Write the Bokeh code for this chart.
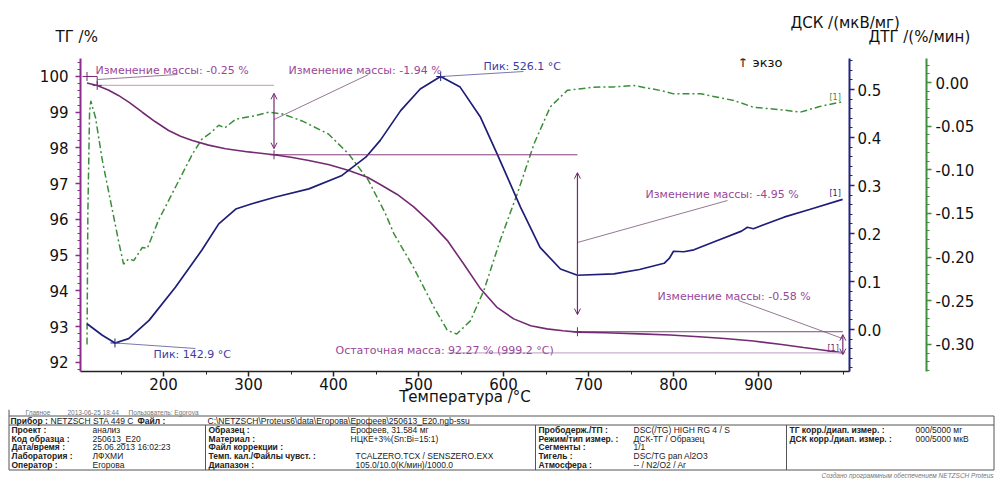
from bokeh.plotting import figure
from bokeh.models import (Range1d, LinearAxis, FixedTicker, NumeralTickFormatter,
                          Label, Arrow, OpenHead, Plot)
from bokeh.layouts import column
from bokeh.embed import file_html
from bokeh.resources import INLINE
from bokeh.core.properties import value

# ---------------- data ----------------
tg_T = [110, 122, 135, 147, 160, 175, 190, 206, 220, 234, 253, 273, 300, 330, 350,
        371, 395, 418, 440, 455, 475, 494, 514, 534, 553, 573, 592, 612, 632, 651,
        670, 687, 720, 760, 796, 830, 860, 894, 925, 953, 975, 999]
tg = [99.82, 99.75, 99.62, 99.47, 99.27, 99.00, 98.74, 98.49, 98.33, 98.21, 98.08,
      97.98, 97.89, 97.81, 97.74, 97.65, 97.53, 97.37, 97.18, 96.98, 96.70, 96.36,
      95.92, 95.41, 94.76, 94.06, 93.55, 93.22, 93.03, 92.94, 92.89, 92.85, 92.83,
      92.80, 92.77, 92.72, 92.67, 92.60, 92.51, 92.42, 92.35, 92.27]

dsc_T = [110, 128, 143, 159, 183, 214, 245, 265, 285, 304, 332, 371, 410, 438, 455,
         479, 502, 526, 549, 573, 593, 620, 643, 667, 687, 730, 760, 789, 795, 800,
         812, 824, 851, 880, 887, 894, 930, 960, 999]
dsc = [0.012, -0.012, -0.028, -0.019, 0.019, 0.088, 0.165, 0.220, 0.251, 0.262,
       0.276, 0.293, 0.321, 0.359, 0.394, 0.456, 0.501, 0.527, 0.505, 0.442, 0.364,
       0.255, 0.171, 0.126, 0.113, 0.116, 0.125, 0.138, 0.148, 0.163, 0.162, 0.166,
       0.185, 0.205, 0.213, 0.210, 0.234, 0.250, 0.271]

dtg_T = [110, 111, 113, 114.5, 117, 120, 128, 140, 147, 153, 159, 165, 175, 181, 194,
         214, 234, 245, 255, 265, 272, 285, 308, 324, 340, 363, 394, 418, 441, 461,
         471, 494, 518, 534, 545, 561, 577, 596, 616, 636, 655, 675, 706, 730, 753,
         785, 800, 832, 871, 894, 934, 949, 972, 999]
dtg = [-0.300, -0.150, -0.035, -0.021, -0.030, -0.040, -0.089, -0.147, -0.181, -0.208,
       -0.202, -0.204, -0.189, -0.190, -0.158, -0.120, -0.082, -0.065, -0.058, -0.049,
       -0.052, -0.042, -0.038, -0.034, -0.036, -0.044, -0.059, -0.082, -0.112, -0.150,
       -0.173, -0.2115, -0.257, -0.284, -0.288, -0.273, -0.238, -0.181, -0.128, -0.070,
       -0.028, -0.009, -0.0054, -0.0050, -0.0034, -0.0092, -0.013, -0.013, -0.0206,
       -0.0283, -0.032, -0.034, -0.0275, -0.022]

# mass-change evaluation points (T, TG level)
mass_T = [110, 122, 330, 687, 999.2]
mass_TG = [100.0, 99.75, 97.81, 92.86, 92.27]
# DSC peaks
peak_T = [142.9, 526.1]
peak_dsc = [-0.028, 0.527]

x_ticks = [200, 300, 400, 500, 600, 700, 800, 900]
tg_ticks = [92, 93, 94, 95, 96, 97, 98, 99, 100]
dsc_ticks = [0.0, 0.1, 0.2, 0.3, 0.4, 0.5]
dtg_ticks = [-0.30, -0.25, -0.20, -0.15, -0.10, -0.05, 0.00]

ann_mass = ["Изменение массы: -0.25 %", "Изменение массы: -1.94 %",
            "Изменение массы: -4.95 %", "Изменение массы: -0.58 %"]
ann_peak = ["Пик: 142.9 °C", "Пик: 526.1 °C"]
ann_resid = "Остаточная масса: 92.27 % (999.2 °C)"

titles = ["ТГ /%", "ДСК /(мкВ/мг)", "ДТГ /(%/мин)"]
x_title = "Температура /°C"

info_line = ["Главное", "2013-06-25 18:44", "Пользователь: Egorova"]
row1 = ["Прибор :", "NETZSCH STA 449 C", "Файл :",
        "C:\\NETZSCH\\Proteus6\\data\\Егорова\\Ерофеев\\250613_E20.ngb-ssu"]
c1_lab = ["Проект :", "Код образца :", "Дата/время :", "Лаборатория :", "Оператор :"]
c1_val = ["анализ", "250613_E20", "25.06.2013 16:02:23", "ЛФХМИ", "Егорова"]
c2_lab = ["Образец :", "Материал :", "Файл коррекции :", "Темп. кал./Файлы чувст. :", "Диапазон :"]
c2_val = ["Ерофеев, 31.584 мг", "НЦКЕ+3%(Sn:Bi=15:1)", "", "TCALZERO.TCX / SENSZERO.EXX",
          "105.0/10.0(K/мин)/1000.0"]
c3_lab = ["Прободерж./ТП :", "Режим/тип измер. :", "Сегменты :", "Тигель :", "Атмосфера :"]
c3_val = ["DSC(/TG) HIGH RG 4 / S", "ДСК-ТГ / Образец", "1/1", "DSC/TG pan Al2O3", "-- / N2/O2 / Ar"]
c4_lab = ["ТГ корр./диап. измер. :", "ДСК корр./диап. измер. :"]
c4_val = ["000/5000 мг", "000/5000 мкВ"]
footer = "Создано программным обеспечением NETZSCH Proteus"

# ---------------- geometry / styles ----------------
FONT = "DejaVu Sans"
TFONT = "Liberation Sans"
W = 995
H_TOP, H_MAIN = 46, 363
H_BOT = 479 - H_TOP - H_MAIN
X_LO, X_HI = 102.35, 1007.06
TG_LO, TG_HI = 91.748, 100.503
DSC_LO, DSC_HI = -0.0875, 0.5646
DTG_LO, DTG_HI = -0.331, 0.0275
FL, FR, FT, FB = 80, 849, 58, 371  # frame edges on the page (px)

C_TG, C_TG_AX, C_TG_TXT, C_TG_LIGHT = "#742a72", "#8c2c8c", "#98489a", "#cbb0cb"
C_DSC, C_DSC_AX, C_DSC_TXT = "#1e1e7a", "#25257f", "#3c3ca4"
C_DTG, C_DTG_AX = "#3a8e3a", "#3e8e3e"

FA = {"frame_align": False} if "frame_align" in Plot.properties() else {}


def px2x(px):
    return X_LO + (px - FL) / (FR - FL) * (X_HI - X_LO)


def py2tg(py):
    return TG_HI - (py - FT) / (FB - FT) * (TG_HI - TG_LO)


def dsc2tg(v):
    return TG_LO + (v - DSC_LO) / (DSC_HI - DSC_LO) * (TG_HI - TG_LO)


def minors(lo, hi, step, majors):
    n = int(round((hi - lo) / step))
    out = [round(lo + i * step, 4) for i in range(n + 1)]
    return [v for v in out if all(abs(v - m) > 1e-6 for m in majors)]


def strip(height, y_top):
    f = figure(width=W, height=height, x_range=Range1d(0, W),
               y_range=Range1d(y_top + height, y_top), title=None,
               output_backend="svg", toolbar_location=None, min_border=0,
               x_axis_location=None, y_axis_location=None, **FA)
    f.grid.visible = False
    f.outline_line_color = None
    return f


def stext(f, xs, ys, texts, size="8.5px", style="normal", color="#222222", align="left", font=TFONT):
    f.text(x=xs, y=ys, text=texts, text_font=value(font), text_font_size=size,
           text_font_style=style, text_color=color, text_align=align, text_baseline="middle")


# ---------------- top strip: axis titles ----------------
top = strip(H_TOP, 0)
stext(top, [55, 868], [36, 36], [titles[0], titles[2]], size="15px", color="#111111", font=FONT)
stext(top, [790], [22], [titles[1]], size="15px", color="#111111", font=FONT)

# ---------------- main plot ----------------
p = figure(width=W, height=H_MAIN, x_range=Range1d(X_LO, X_HI), y_range=Range1d(TG_LO, TG_HI),
           output_backend="svg", toolbar_location=None, title=None,
           min_border_left=FL, min_border_right=W - FR,
           min_border_top=FT - H_TOP, min_border_bottom=H_TOP + H_MAIN - FB, **FA)
p.extra_y_ranges = {"dsc": Range1d(DSC_LO, DSC_HI), "dtg": Range1d(DTG_LO, DTG_HI)}
p.grid.visible = False
p.outline_line_color = None


def style_axis(ax, color, standoff):
    ax.axis_line_color = color
    ax.axis_line_width = 2
    ax.major_tick_line_color = color
    ax.minor_tick_line_color = color
    ax.major_tick_line_width = 1.5
    ax.major_tick_out = 5
    ax.major_tick_in = 0
    ax.minor_tick_out = 3
    ax.minor_tick_in = 0
    ax.major_label_text_font = FONT
    ax.major_label_text_font_size = "15px"
    ax.major_label_text_color = "#111111"
    ax.major_label_standoff = standoff


xa = p.xaxis[0]
xa.ticker = FixedTicker(ticks=x_ticks, minor_ticks=minors(150, 1000, 50, x_ticks))
style_axis(xa, "#222222", 1)
xa.axis_line_width = 1.5
xa.axis_label = x_title
xa.axis_label_text_font = FONT
xa.axis_label_text_font_size = "15px"
xa.axis_label_text_font_style = "normal"
xa.axis_label_text_color = "#111111"
xa.axis_label_standoff = -5

ya = p.yaxis[0]
ya.ticker = FixedTicker(ticks=tg_ticks, minor_ticks=minors(91.8, 100.4, 0.2, tg_ticks))
style_axis(ya, C_TG_AX, 7)

dsc_ax = LinearAxis(y_range_name="dsc",
                    ticker=FixedTicker(ticks=dsc_ticks, minor_ticks=minors(-0.08, 0.56, 0.02, dsc_ticks)),
                    formatter=NumeralTickFormatter(format="0.0"))
style_axis(dsc_ax, C_DSC_AX, 3)
dsc_ax.axis_label = " "
dsc_ax.axis_label_text_font_size = "1px"
dsc_ax.axis_label_orientation = "horizontal"
dsc_ax.axis_label_standoff = 39
p.add_layout(dsc_ax, "right")

dtg_ax = LinearAxis(y_range_name="dtg",
                    ticker=FixedTicker(ticks=dtg_ticks, minor_ticks=minors(-0.33, 0.02, 0.01, dtg_ticks)),
                    formatter=NumeralTickFormatter(format="0.00"))
style_axis(dtg_ax, C_DTG_AX, 4)
p.add_layout(dtg_ax, "right")

# curves
p.line(dtg_T, dtg, y_range_name="dtg", line_color=C_DTG, line_width=1.5, line_dash="7 3 2 3")
p.line(tg_T, tg, line_color=C_TG, line_width=1.6)
p.line(dsc_T, dsc, y_range_name="dsc", line_color=C_DSC, line_width=1.7)

# mass-change construction lines
p.segment(x0=[mass_T[0], mass_T[1]], y0=[mass_TG[0], mass_TG[0]],
          x1=[mass_T[1], mass_T[1]], y1=[mass_TG[0], mass_TG[1]], line_color=C_TG, line_width=1)
p.segment(x0=[mass_T[1]], y0=[mass_TG[1]], x1=[mass_T[2]], y1=[mass_TG[1]],
          line_color=C_TG_LIGHT, line_width=1.2)
p.segment(x0=[mass_T[2], mass_T[3]], y0=[mass_TG[2], mass_TG[3]],
          x1=[mass_T[3], mass_T[4]], y1=[mass_TG[2], mass_TG[3]],
          line_color=C_TG, line_width=0.9)
p.segment(x0=[px2x(447)], y0=[mass_TG[4]], x1=[px2x(845)], y1=[mass_TG[4]],
          line_color=C_TG_LIGHT, line_width=1.2)
p.scatter(mass_T[:4], mass_TG[:4], marker="cross", size=9, line_color=C_TG, line_width=1)
p.scatter(peak_T, peak_dsc, y_range_name="dsc", marker="cross", size=9,
          line_color=C_DSC, line_width=1)

for i, (a, b) in enumerate([(0.22, 0.17), (0.5, 0.48), (0.08, -0.05)]):
    x = mass_T[i + 2] if i < 2 else mass_T[4]
    top_v = mass_TG[i + 1] - a
    bot_v = mass_TG[i + 2] + b
    p.add_layout(Arrow(x_start=x, y_start=top_v, x_end=x, y_end=bot_v,
                       start=OpenHead(size=6, line_color=C_TG, line_width=1),
                       end=OpenHead(size=6, line_color=C_TG, line_width=1),
                       line_color=C_TG, line_width=1.2))

lead = [
    (px2x(97), py2tg(79), px2x(177), py2tg(74)),
    (mass_T[2], py2tg(119), px2x(368), py2tg(74)),
    (peak_T[1], dsc2tg(peak_dsc[1]), px2x(523), py2tg(71)),
    (mass_T[3], py2tg(242), px2x(727), py2tg(200)),
    (px2x(738), py2tg(300), px2x(842), py2tg(338)),
    (peak_T[0], dsc2tg(peak_dsc[0]), px2x(195), py2tg(348)),
]
p.segment(x0=[l[0] for l in lead], y0=[l[1] for l in lead],
          x1=[l[2] for l in lead], y1=[l[3] for l in lead],
          line_color=["#7a557a", "#7a557a", "#555599", "#7a557a", "#7a557a", "#555599"],
          line_width=0.8)


def add_label(px, py, text, color, size="11px", align="left"):
    p.add_layout(Label(x=px2x(px), y=py2tg(py), text=text, text_color=color,
                       text_font=FONT, text_font_size=size, text_align=align,
                       text_baseline="middle"))


add_label(95, 70, ann_mass[0], C_TG_TXT)
add_label(288, 70, ann_mass[1], C_TG_TXT)
add_label(483, 66, ann_peak[1], C_DSC_TXT)
add_label(737, 62, "↑ экзо", "#111111", size="13px")
add_label(645, 194, ann_mass[2], C_TG_TXT)
add_label(657, 296, ann_mass[3], C_TG_TXT)
add_label(335, 350, ann_resid, C_TG_TXT)
add_label(153, 354, ann_peak[0], C_DSC_TXT)
add_label(829, 97, "[1]", C_DTG, size="8px")
add_label(829, 193, "[1]", C_DSC, size="8px")
add_label(827, 348, "[1]", C_TG, size="8px")

# ---------------- bottom strip: info table ----------------
Y0 = H_TOP + H_MAIN
t = strip(H_BOT, Y0)
LINE = "#555555"
y_top_line, y_sep, y_bot = 415.5, 424.5, 469.5
t.segment(x0=[8.5, 8.5, 8.5, 8.5, 993.5, 205, 535, 786],
          y0=[y_top_line, y_sep, y_bot, Y0, y_top_line, y_sep, y_sep, y_sep],
          x1=[993.5, 993.5, 993.5, 8.5, 993.5, 205, 535, 786],
          y1=[y_top_line, y_sep, y_bot, y_bot, y_bot, y_bot, y_bot, y_bot],
          line_color=LINE, line_width=1)

stext(t, [25, 67, 128], [411.5, 411.5, 411.5], info_line, size="6.5px", color="#777777")
stext(t, [10, 137], [420, 420], [row1[0], row1[2]], size="8.5px", style="bold")
stext(t, [50, 207], [420, 420], [row1[1], row1[3]], size="8.5px")

rows_y = [429.2, 438.0, 446.8, 455.6, 464.4]
stext(t, [11] * 5, rows_y, c1_lab, size="8.5px", style="bold")
stext(t, [92] * 5, rows_y, c1_val, size="8.5px")
stext(t, [208] * 5, rows_y, c2_lab, size="8.5px", style="bold")
stext(t, [350, 350, 350, 355, 355], rows_y, c2_val, size="8.5px")
stext(t, [538] * 5, rows_y, c3_lab, size="8.5px", style="bold")
stext(t, [633] * 5, rows_y, c3_val, size="8.5px")
stext(t, [789] * 2, rows_y[:2], c4_lab, size="8.5px", style="bold")
stext(t, [915] * 2, rows_y[:2], c4_val, size="8.5px")
stext(t, [993], [474.5], [footer], size="6.5px", style="italic", color="#777777", align="right")

layout = column(top, p, t, spacing=0)
open("out.html", "w").write(file_html(layout, INLINE))
